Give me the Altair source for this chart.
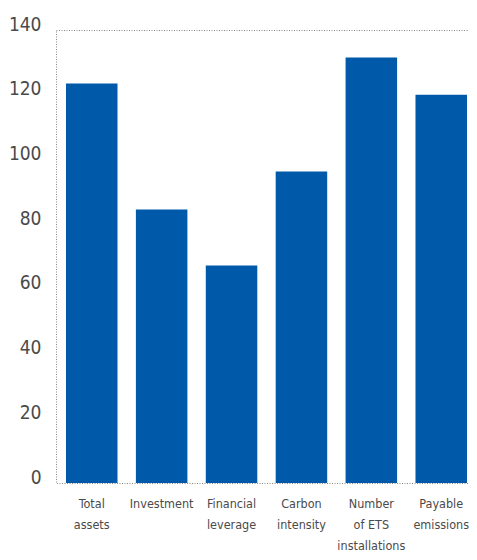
import altair as alt
import pandas as pd

categories = ["Total|assets", "Investment", "Financial|leverage", "Carbon|intensity",
              "Number|of ETS|installations", "Payable|emissions"]
values = [123.5, 84.5, 67.2, 96.3, 131.5, 120.0]

df = pd.DataFrame({"cat": categories, "value": values})

FONT = "DejaVu Sans Condensed, DejaVu Sans, sans-serif"

chart = alt.Chart(df).mark_bar(color="#005AA9").encode(
    x=alt.X("cat:N", sort=None, title=None,
            scale=alt.Scale(paddingInner=0.263, paddingOuter=0.0858, align=0.833),
            axis=alt.Axis(labelAngle=0, labelExpr="split(datum.label, '|')",
                          labelFont=FONT, labelFontSize=12.5, labelColor="#4a4a4a",
                          labelLineHeight=21, labelPadding=14, ticks=False, domain=False,
                          labelBaseline="top")),
    y=alt.Y("value:Q", title=None,
            scale=alt.Scale(domain=[0, 140], nice=False),
            axis=alt.Axis(values=[0, 20, 40, 60, 80, 100, 120, 140], grid=False, ticks=False,
                          domain=False, labelFont=FONT, labelFontSize=19,
                          labelColor="#4a4a4a", labelPadding=15,
                          labelBaseline="alphabetic")),
).properties(
    width=413, height=453,
    autosize=alt.AutoSizeParams(type="none"),
    padding={"left": 48, "top": 22, "right": 0, "bottom": 69},
).configure_view(
    stroke="#888888", strokeDash=[1, 1.5], strokeWidth=1
)

chart.save("out.html", embed_options={"renderer": "svg", "actions": False})
